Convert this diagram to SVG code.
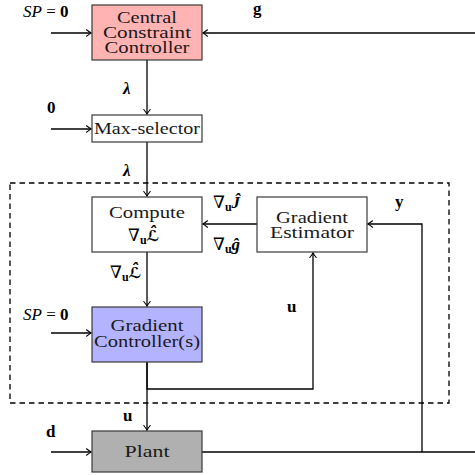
<svg xmlns="http://www.w3.org/2000/svg" width="475" height="475" viewBox="0 0 475 475">
<defs>
<marker id="arr" markerWidth="10" markerHeight="10" refX="0" refY="0" viewBox="-6 -5 8 10" orient="auto" markerUnits="userSpaceOnUse">
<path d="M-4.5,-3.2 Q-1.2,-0.6 0.3,0 Q-1.2,0.6 -4.5,3.2" fill="none" stroke="#000" stroke-width="1.1" stroke-linecap="round"/>
</marker>
<style>
.box{stroke:#3a3a3a;stroke-width:1.2}
.lbl{font-family:"Liberation Serif","DejaVu Serif",serif;font-size:16.5px;fill:#1a1a1a;text-anchor:middle}
.m{font-family:"Liberation Serif","DejaVu Serif",serif;font-size:17px;fill:#000}
.b{font-weight:bold}
.i{font-style:italic}
.sub{font-size:12px;font-weight:bold}
.sc{font-family:"DejaVu Sans",sans-serif;font-size:15px;font-weight:bold;font-style:italic}
.w{fill:none;stroke:#000;stroke-width:1.3}
.a{marker-end:url(#arr)}
</style>
</defs>
<rect x="10" y="183" width="439" height="220" fill="none" stroke="#000" stroke-width="1.3" stroke-dasharray="5.5,4"/>
<g id="connectors">
<path class="w a" d="M51,33 H91"/>
<path class="w a" d="M475,33 H203"/>
<path class="w a" d="M147,60 V114"/>
<path class="w a" d="M51,129 H91"/>
<path class="w a" d="M147,142 V196"/>
<path class="w a" d="M257,224 H203"/>
<path class="w a" d="M422,452 V224 H368"/>
<path class="w a" d="M147,362 V389 H313 V253"/>
<path class="w a" d="M147,252 V306"/>
<path class="w a" d="M51,333 H91"/>
<path class="w a" d="M147,362 V430"/>
<path class="w a" d="M51,452 H91"/>
<path class="w" d="M202,452 H475"/>
</g>
<g id="ccc">
<rect class="box" x="92" y="5" width="110" height="55" fill="#ffb3b3"/>
<text class="lbl" x="147" y="23" textLength="60" lengthAdjust="spacingAndGlyphs">Central</text>
<text class="lbl" x="147" y="38" textLength="88" lengthAdjust="spacingAndGlyphs">Constraint</text>
<text class="lbl" x="147" y="53" textLength="85" lengthAdjust="spacingAndGlyphs">Controller</text>
</g>
<g id="maxsel">
<rect class="box" x="92" y="115" width="110" height="27" fill="#fff"/>
<text class="lbl" x="147" y="134" textLength="106" lengthAdjust="spacingAndGlyphs">Max-selector</text>
</g>
<g id="compute">
<rect class="box" x="92" y="197" width="110" height="55" fill="#fff"/>
<text class="lbl" x="147" y="218" textLength="76" lengthAdjust="spacingAndGlyphs">Compute</text>
<text class="m" x="128" y="241">∇<tspan class="sub" dy="3">u</tspan><tspan dy="-3" class="sc">ℒ̂</tspan></text>
</g>
<g id="gradest">
<rect class="box" x="257" y="197" width="110" height="55" fill="#fff"/>
<text class="lbl" x="312" y="223" textLength="72" lengthAdjust="spacingAndGlyphs">Gradient</text>
<text class="lbl" x="312" y="238" textLength="84" lengthAdjust="spacingAndGlyphs">Estimator</text>
</g>
<g id="gradctrl">
<rect class="box" x="92" y="307" width="110" height="55" fill="#b3b3ff"/>
<text class="lbl" x="147" y="331" textLength="73" lengthAdjust="spacingAndGlyphs">Gradient</text>
<text class="lbl" x="147" y="347" textLength="106" lengthAdjust="spacingAndGlyphs">Controller(s)</text>
</g>
<g id="plant">
<rect class="box" x="92" y="431" width="110" height="41" fill="#b0b0b0"/>
<text class="lbl" x="147" y="457" textLength="45" lengthAdjust="spacingAndGlyphs">Plant</text>
</g>
<g id="labels">
<text class="m" x="23" y="17"><tspan class="i">SP</tspan> = <tspan class="b">0</tspan></text>
<text class="m b" x="253" y="14">g</text>
<text class="m b i" x="123" y="94">λ</text>
<text class="m b" x="47" y="113">0</text>
<text class="m b i" x="123" y="176">λ</text>
<text class="m" x="213" y="208">∇<tspan class="sub" dy="3">u</tspan><tspan dy="-3" class="b i">Ĵ</tspan></text>
<text class="m" x="213" y="250">∇<tspan class="sub" dy="3">u</tspan><tspan dy="-3" class="b i">ĝ</tspan></text>
<text class="m b" x="395" y="207">y</text>
<text class="m" x="110" y="278">∇<tspan class="sub" dy="3">u</tspan><tspan dy="-3" class="sc">ℒ̂</tspan></text>
<text class="m b" x="287" y="312">u</text>
<text class="m" x="23" y="320"><tspan class="i">SP</tspan> = <tspan class="b">0</tspan></text>
<text class="m b" x="123" y="421">u</text>
<text class="m b" x="46" y="437">d</text>
</g>
</svg>
